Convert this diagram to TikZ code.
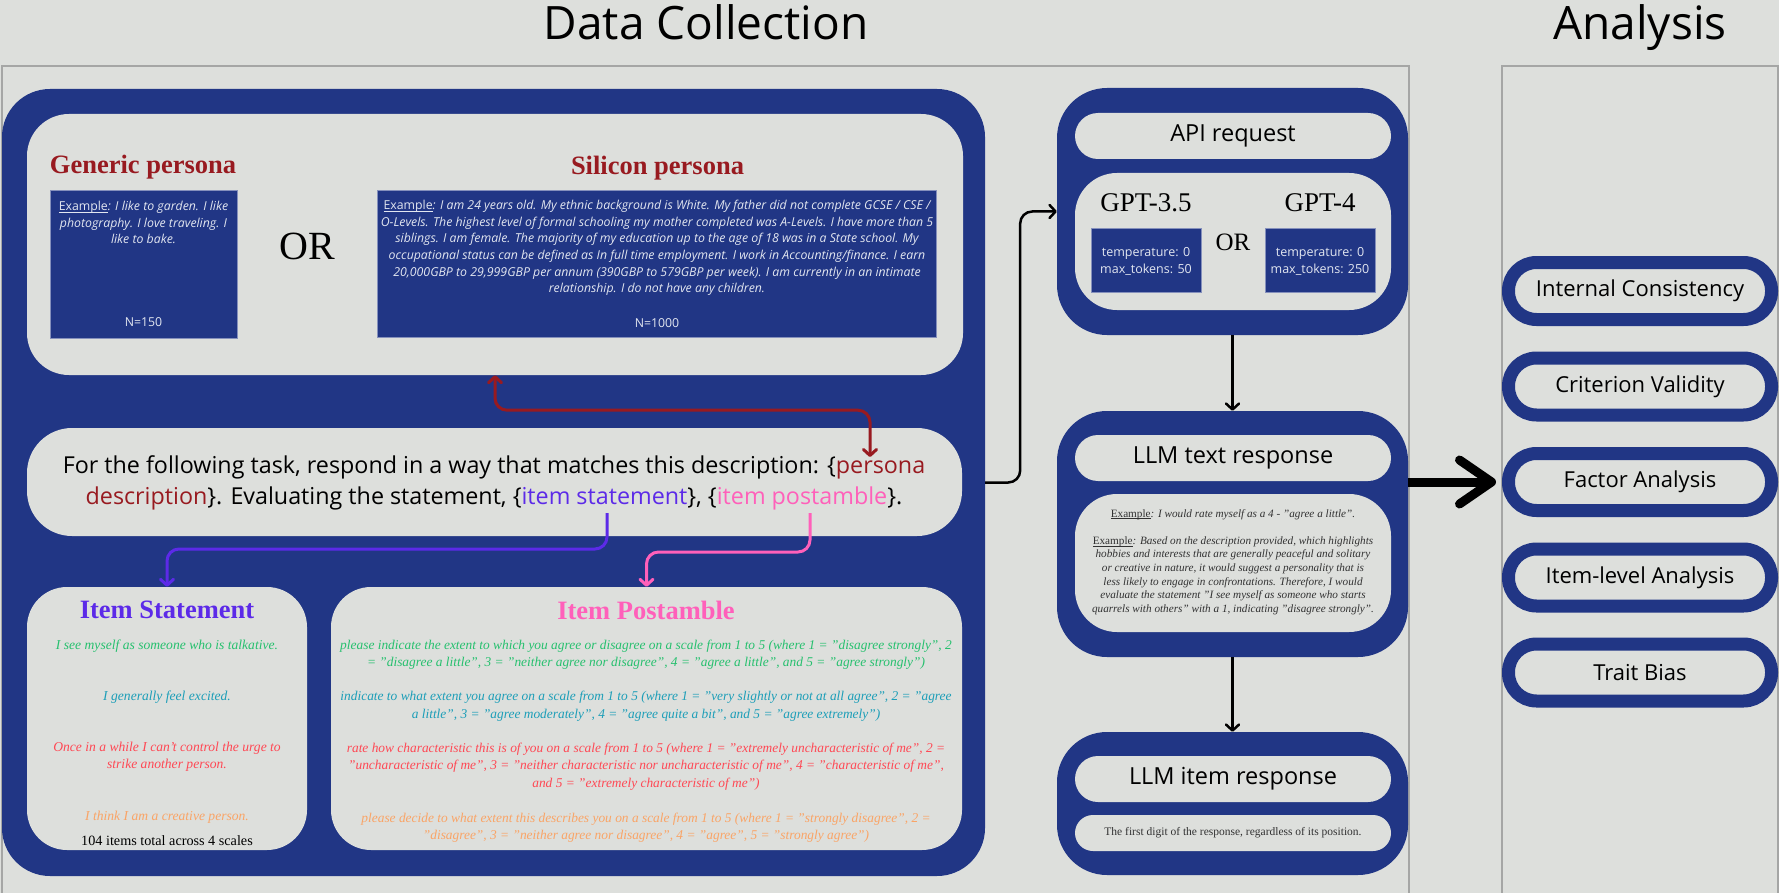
\documentclass[tikz,border=0pt]{standalone}
\usepackage{fontspec}
\setmainfont{Liberation Serif}
\setsansfont{Open Sans}
\usetikzlibrary{arrows.meta, positioning}

\definecolor{panelblue}{RGB}{33,54,133}
\definecolor{boxgray}{RGB}{221,223,220}
\definecolor{framegray}{RGB}{165,166,165}
\definecolor{cardtext}{RGB}{226,230,240}
\definecolor{descred}{RGB}{152,26,32}
\definecolor{stmtpurple}{RGB}{92,42,232}
\definecolor{postpink}{RGB}{255,96,186}
\definecolor{scalegreen}{RGB}{38,192,110}
\definecolor{scaleteal}{RGB}{28,158,184}
\definecolor{scalered}{RGB}{255,72,84}
\definecolor{scaleorange}{RGB}{250,164,102}
\definecolor{exgray}{RGB}{50,50,50}

% underlined label word
\newcommand{\underword}[1]{\leavevmode\setbox0=\hbox{#1}\rlap{\rule[-0.17em]{\wd0}{0.06em}}\box0}

\tikzset{
  bluepanel/.style={fill=panelblue, rounded corners=48pt, inner sep=0pt},
  lightbox/.style={fill=boxgray, rounded corners=42pt, inner sep=0pt},
  pillbox/.style={fill=boxgray, rounded corners=23pt, minimum width=316pt, minimum height=46pt, inner sep=0pt, font=\sffamily\fontsize{23.5}{28}\selectfont},
  card/.style={fill=panelblue, draw=panelblue!55!white, line width=0.8pt, inner sep=0pt},
  cardtext/.style={text=cardtext, align=center, inner sep=0pt, font=\sffamily\fontsize{12.3}{16.6}\selectfont},
  cardquote/.style={cardtext, font=\sffamily\itshape\fontsize{12.3}{16.6}\selectfont},
  heading/.style={font=\bfseries\fontsize{26.5}{30}\selectfont},
  gptlabel/.style={font=\fontsize{27}{30}\selectfont},
  scaleline/.style={align=center, inner sep=0pt, font=\itshape\fontsize{13.6}{17.5}\selectfont},
  postline/.style={align=center, inner sep=0pt, font=\itshape\fontsize{13.4}{17.5}\selectfont},
  anapill/.style={draw=panelblue, line width=13pt, fill=boxgray, rounded corners=28pt, minimum width=263pt, minimum height=57pt, inner sep=0pt, font=\sffamily\fontsize{22}{26}\selectfont},
  link/.style={line width=3pt, rounded corners=12pt, >={Straight Barb[length=6pt,width=13pt,round]}, ->},
}

\begin{document}
\begin{tikzpicture}[x=1pt, y=-1pt]
    \useasboundingbox (0,0) rectangle (1784,893);

    % Background and the two column frames
    \fill[boxgray] (0,0) rectangle (1779,893);
    \draw[framegray, line width=1.5pt] (2,893) -- (2,66) -- (1409,66) -- (1409,893);
    \draw[framegray, line width=1.5pt] (1502,893) -- (1502,66) -- (1778,66) -- (1778,893);
    \node[font=\sffamily\fontsize{46}{50}\selectfont, anchor=base] (dctitle) at (706,40) {Data Collection};
    \node[font=\sffamily\fontsize{46}{50}\selectfont, anchor=base] (antitle) at (1640,40) {Analysis};

    % Prompt construction panel
    \node[bluepanel, minimum width=983pt, minimum height=787pt] (dcpanel) at (493.5,482.5) {};
    \node[lightbox, minimum width=936pt, minimum height=261pt] (persona) at (495,244.5) {};

    % Persona types
    \node[heading, text=descred] (generic) at (143,167) {Generic persona};
    \node[card, minimum width=187pt, minimum height=148pt] (gencard) at (143.5,264) {};
    \node[cardquote] (gentext) at (143.5,222.5) {\textup{\underword{Example}}: I like to garden. I like\\ photography. I love traveling. I\\ like to bake.};
    \node[cardtext] (genn) at (143.5,322) {N=150};
    \node[font=\fontsize{40}{44}\selectfont] (orpersona) at (307,246) {OR};
    \node[heading, text=descred] (silicon) at (657.5,168) {Silicon persona};
    \node[card, minimum width=559pt, minimum height=147pt] (silcard) at (657,263.5) {};
    \node[cardquote] (siltext) at (657,248) {\textup{\underword{Example}}: I am 24 years old. My ethnic background is White. My father did not complete GCSE / CSE /\\
        O-Levels. The highest level of formal schooling my mother completed was A-Levels. I have more than 5\\
        siblings. I am female. The majority of my education up to the age of 18 was in a State school. My\\
        occupational status can be defined as In full time employment. I work in Accounting/finance. I earn\\
        20,000GBP to 29,999GBP per annum (390GBP to 579GBP per week). I am currently in an intimate\\
        relationship. I do not have any children.};
    \node[cardtext] (siln) at (657,323) {N=1000};

    % Prompt template
    \node[lightbox, rounded corners=45pt, minimum width=935pt, minimum height=108pt] (prompt) at (494.5,482) {};
    \node[align=center, inner sep=0pt, font=\sffamily\fontsize{23.3}{31}\selectfont] (prompttext) at (494,482.5) {For the following task, respond in a way that matches this description: \{\textcolor{descred}{persona}\\
        \textcolor{descred}{description}\}. Evaluating the statement, \{\textcolor{stmtpurple}{item statement}\}, \{\textcolor{postpink}{item postamble}\}.};
    \coordinate (pdesc) at (870,457);
    \coordinate (stmtword) at (607,513);
    \coordinate (postword) at (810,513);

    % Item statements
    \node[lightbox, rounded corners=40pt, minimum width=280pt, minimum height=263pt] (stmtbox) at (167,718.5) {};
    \node[heading, text=stmtpurple] (stmttitle) at (167,610) {Item Statement};
    \node[scaleline, text=scalegreen] (stmtgreen) at (167,646) {I see myself as someone who is talkative.};
    \node[scaleline, text=scaleteal] (stmtteal) at (167,697) {I generally feel excited.};
    \node[scaleline, text=scalered] (stmtred) at (167,756.5) {Once in a while I can't control the urge to\\ strike another person.};
    \node[scaleline, text=scaleorange] (stmtorange) at (167,817) {I think I am a creative person.};
    \node[font=\fontsize{14.2}{16}\selectfont] (stmtcount) at (167,841) {104 items total across 4 scales};

    % Item postambles
    \node[lightbox, rounded corners=40pt, minimum width=631pt, minimum height=263pt] (postbox) at (646.5,718.5) {};
    \node[heading, text=postpink] (posttitle) at (646,610) {Item Postamble};
    \node[postline, text=scalegreen] (postgreen) at (646,654.5) {please indicate the extent to which you agree or disagree on a scale from 1 to 5 (where 1 = "disagree strongly", 2\\
        = "disagree a little", 3 = "neither agree nor disagree", 4 = "agree a little", and 5 = "agree strongly")};
    \node[postline, text=scaleteal] (postteal) at (646,706) {indicate to what extent you agree on a scale from 1 to 5 (where 1 = "very slightly or not at all agree", 2 = "agree\\
        a little", 3 = "agree moderately", 4 = "agree quite a bit", and 5 = "agree extremely")};
    \node[postline, text=scalered] (postred) at (646,766.5) {rate how characteristic this is of you on a scale from 1 to 5 (where 1 = "extremely uncharacteristic of me", 2 =\\
        "uncharacteristic of me", 3 = "neither characteristic nor uncharacteristic of me", 4 = "characteristic of me",\\
        and 5 = "extremely characteristic of me")};
    \node[postline, text=scaleorange] (postorange) at (646,827.5) {please decide to what extent this describes you on a scale from 1 to 5 (where 1 = "strongly disagree", 2 =\\
        "disagree", 3 = "neither agree nor disagree", 4 = "agree", 5 = "strongly agree")};

    % API request
    \node[bluepanel, rounded corners=50pt, minimum width=351pt, minimum height=247pt] (api) at (1232.5,211.5) {};
    \node[pillbox] (apipill) at (1233,136) {API request};
    \node[lightbox, minimum width=316pt, minimum height=137pt] (gptbox) at (1233,241.5) {};
    \node[gptlabel] (gpt35) at (1146,203) {GPT-3.5};
    \node[gptlabel] (gpt4) at (1320,203) {GPT-4};
    \node[card, minimum width=110pt, minimum height=64pt] (gpt35card) at (1146,260) {};
    \node[card, minimum width=110pt, minimum height=64pt] (gpt4card) at (1320,260) {};
    \node[cardtext, font=\sffamily\fontsize{12.5}{17}\selectfont] (gpt35set) at (1146,261) {temperature: 0\\ max\_tokens: 50};
    \node[cardtext, font=\sffamily\fontsize{12.5}{17}\selectfont] (gpt4set) at (1320,261) {temperature: 0\\ max\_tokens: 250};
    \node[font=\fontsize{25}{30}\selectfont] (orgpt) at (1233,242) {OR};

    % LLM text response
    \node[bluepanel, rounded corners=50pt, minimum width=351pt, minimum height=246pt] (textresp) at (1232.5,534) {};
    \node[pillbox] (textpill) at (1233,458) {LLM text response};
    \node[lightbox, minimum width=316pt, minimum height=138pt] (exbox) at (1233,563) {};
    \node[align=center, inner sep=0pt, text=exgray, font=\itshape\fontsize{11.2}{13.6}\selectfont] (extext) at (1233,562) {\textup{\underword{Example}}: I would rate myself as a 4 - "agree a little".\\[13.6pt]
        \textup{\underword{Example}}: Based on the description provided, which highlights\\
        hobbies and interests that are generally peaceful and solitary\\
        or creative in nature, it would suggest a personality that is\\
        less likely to engage in confrontations. Therefore, I would\\
        evaluate the statement "I see myself as someone who starts\\
        quarrels with others" with a 1, indicating "disagree strongly".};

    % LLM item response
    \node[bluepanel, rounded corners=50pt, minimum width=351pt, minimum height=143pt] (itemresp) at (1232.5,803.5) {};
    \node[pillbox] (itempill) at (1233,779) {LLM item response};
    \node[pillbox, minimum height=36pt, rounded corners=18pt, text=exgray, font=\fontsize{11.5}{13}\selectfont] (digit) at (1233,833) {The first digit of the response, regardless of its position.};

    % Analysis steps
    \node[anapill] (internal) at (1640,291) {Internal Consistency};
    \node[anapill] (criterion) at (1640,386.5) {Criterion Validity};
    \node[anapill] (factor) at (1640,482) {Factor Analysis};
    \node[anapill] (itemlevel) at (1640,577.5) {Item-level Analysis};
    \node[anapill] (trait) at (1640,672.5) {Trait Bias};

    % Connectors
    \draw[link, descred, <->] (persona.south) -- ++(0,35) -| (pdesc);
    \draw[link, stmtpurple] (stmtword) -- ++(0,36) -| (stmtbox.north);
    \draw[link, postpink] (postword) -- ++(0,39) -| (postbox.north);
    \draw[link, line width=2.5pt] (dcpanel.east) -- ++(35,0) |- (api.west);
    \draw[link, line width=2.5pt] (api.south) -- (textresp.north);
    \draw[link, line width=2.5pt] (textresp.south) -- (itemresp.north);
    \draw[line width=9pt, shorten >=6pt, -{Straight Barb[length=32pt,width=44pt,round]}] (textresp.east |- factor.west) -- (factor.west);
\end{tikzpicture}
\end{document}
